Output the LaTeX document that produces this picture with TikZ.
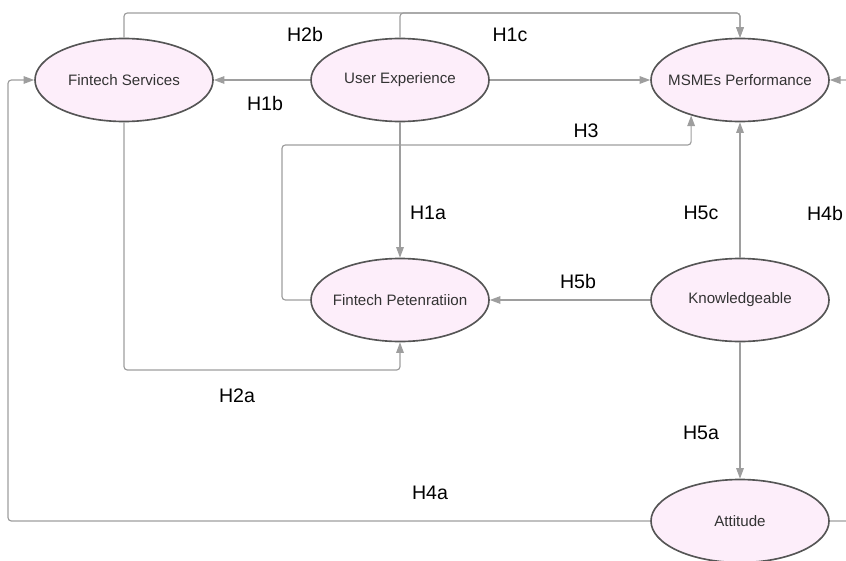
\documentclass[tikz,border=0pt]{standalone}
\usepackage{fontspec}
\setmainfont{Liberation Sans}
\usepackage{tikz}
\usetikzlibrary{shapes.geometric}
\usetikzlibrary{arrows.meta}
\usepackage{xcolor}
\definecolor{varfill}{RGB}{253,238,250}
\definecolor{varline}{RGB}{85,85,85}
\definecolor{vartext}{RGB}{51,51,51}
\definecolor{arrowgray}{RGB}{158,158,158}
\newcommand{\vartxt}[1]{\makebox[0pt]{#1}}

\begin{document}
\begin{tikzpicture}[x=0.03cm,y=-0.03cm,
  var/.style={ellipse,draw=varline,line width=1.4pt,fill=varfill,text=vartext,
    minimum width=5.34cm,minimum height=2.49cm,inner sep=0pt,font=\fontsize{12.9}{15}\selectfont},
  conn/.style={draw=arrowgray,line width=1pt,rounded corners=1mm,
    -{Triangle[length=3.2mm,width=2.3mm]}},
  lbl/.style={font=\fontsize{16.7}{19}\selectfont,text=black,inner sep=0pt}]
\useasboundingbox (0,0) rectangle (846,560);
\clip (0,0) rectangle (846,560);
\coordinate (topline) at (400,13);
\coordinate (h2aline) at (125,370);
\coordinate (h3line) at (282,145);
\coordinate (leftline) at (8,0);
\coordinate (rightline) at (860,0);
\node[var] (fs) at (124,80) {\vartxt{Fintech Services}};
\node[var] (ux) at (400,80) {\vartxt{User Experience}};
\node[var] (msme) at (740,80) {\vartxt{MSMEs Performance}};
\node[var] (fp) at (400,300) {\vartxt{Fintech Petenratiion}};
\node[var] (kn) at (740,300) {\vartxt{Knowledgeable}};
\node[var] (att) at (740,521) {\vartxt{Attitude}};
\draw[conn] (ux.west) -- (fs.east);
\draw[conn] (ux.east) -- (msme.west);
\draw[conn] (ux.south) -- (fp.north);
\draw[conn] (fs.north) |- (msme.north |- topline) -- (msme.north);
\draw[conn] (ux.north) |- (msme.north |- topline) -- (msme.north);
\draw[conn] (fs.south) |- (fp.south |- h2aline) -- (fp.south);
\draw[conn] (fp.west) -| (h3line) -| (msme.216);
\draw[conn] (kn.west) -- (fp.east);
\draw[conn] (kn.north) -- (msme.south);
\draw[conn] (kn.south) -- (att.north);
\draw[conn] (att.west) -| (leftline |- fs.west) -- (fs.west);
\draw[conn] (att.east) -| (rightline |- msme.east) -- (msme.east);
\node[lbl] (h2b) at (305,35) {H2b};
\node[lbl] (h1c) at (510,35) {H1c};
\node[lbl] (h1b) at (265,104) {H1b};
\node[lbl] (h3) at (586,131) {H3};
\node[lbl] (h1a) at (428,213) {H1a};
\node[lbl] (h5c) at (701,213) {H5c};
\node[lbl] (h4b) at (825,214) {H4b};
\node[lbl] (h5b) at (578,282) {H5b};
\node[lbl] (h2a) at (237,396) {H2a};
\node[lbl] (h5a) at (701,433) {H5a};
\node[lbl] (h4a) at (430,493) {H4a};
\end{tikzpicture}
\end{document}
